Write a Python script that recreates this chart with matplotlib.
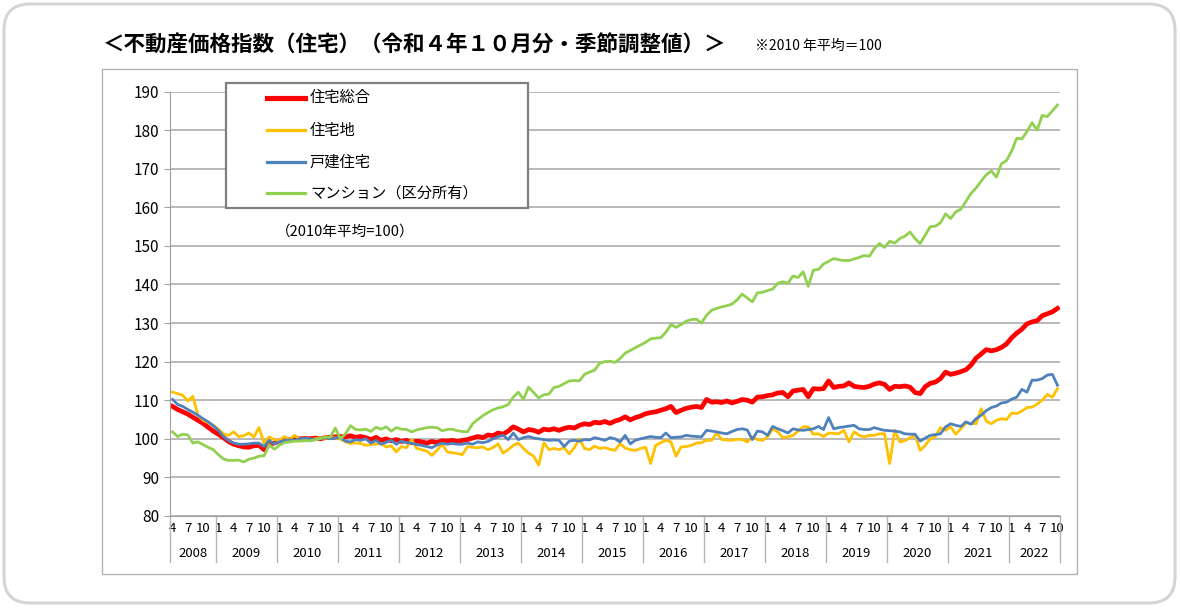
import pandas as pd
import matplotlib
matplotlib.use("Agg")
import matplotlib.pyplot as plt
import matplotlib.transforms as mtransforms
from matplotlib.patches import FancyBboxPatch, Rectangle
from matplotlib.lines import Line2D

plt.rcParams['font.family'] = ['Noto Sans CJK JP', 'DejaVu Sans']

# 2008年4月〜2022年10月（月次）
months = pd.period_range("2008-04", "2022-10", freq="M")
YEARS = list(range(2008, 2023))
TICK_MONTHS = [1, 4, 7, 10]

NAMES = ["住宅総合", "住宅地", "戸建住宅", "マンション（区分所有）"]
COLORS = ["#ff0000", "#ffc000", "#4f81bd", "#92d050"]

sogo = [
    108.4, 107.6, 107.0, 106.4, 105.6, 104.8, 104.0, 103.0, 102.0,
    101.2, 100.3, 99.3, 98.6, 98.2, 97.9, 97.8, 98.2, 98.3, 97.2, 98.6, 98.9,
    99.4, 99.5, 99.8, 99.9, 100.0, 100.1, 100.0, 100.2, 100.0, 100.3, 100.4, 100.5,
    100.6, 100.5, 100.8, 100.4, 100.6, 100.3, 99.8, 100.4, 99.6, 100.0, 99.5, 99.8,
    99.3, 99.6, 99.0, 99.4, 99.2, 98.9, 99.3, 99.0, 99.5, 99.4, 99.6, 99.3,
    99.6, 99.8, 100.2, 100.6, 100.3, 101.0, 100.8, 101.5, 101.2, 102.0, 103.1, 102.5,
    101.8, 102.4, 102.2, 101.7, 102.5, 102.3, 102.6, 102.2, 102.7, 103.0, 102.8, 103.5,
    103.9, 103.7, 104.3, 104.1, 104.5, 104.0, 104.6, 105.0, 105.7, 104.9, 105.5, 105.9,
    106.5, 106.8, 107.0, 107.4, 107.8, 108.4, 106.8, 107.4, 107.9, 108.2, 108.4, 108.1,
    110.2, 109.5, 109.6, 109.4, 109.8, 109.3, 109.7, 110.2, 110.0, 109.5, 110.8, 110.9,
    111.2, 111.4, 111.9, 112.0, 110.9, 112.4, 112.6, 112.8, 110.9, 113.0, 112.9, 113.0,
    115.0, 113.3, 113.6, 113.7, 114.5, 113.6, 113.4, 113.3, 113.6, 114.2, 114.5, 114.1,
    112.8, 113.6, 113.5, 113.7, 113.4, 112.0, 111.7, 113.5, 114.4, 114.7, 115.6, 117.3,
    116.7, 117.0, 117.4, 117.9, 119.1, 120.9, 122.0, 123.1, 122.8, 123.1, 123.7, 124.6,
    126.2, 127.4, 128.4, 129.8, 130.3, 130.6, 131.9, 132.4, 132.9, 133.8,
]

takuchi = [
    112.1, 111.7, 111.3, 109.8, 111.0, 106.1, 104.8, 104.2, 103.5,
    102.5, 101.3, 100.9, 101.8, 100.6, 100.8, 101.5, 100.5, 102.9, 98.8, 100.5, 99.8,
    99.6, 100.6, 99.8, 100.9, 99.8, 99.9, 99.8, 100.0, 100.3, 100.1, 100.3, 100.3,
    99.9, 99.2, 98.8, 98.9, 98.8, 98.3, 98.5, 98.6, 98.8, 97.9, 98.2, 96.6,
    98.0, 97.7, 99.8, 97.5, 97.2, 96.8, 95.7, 97.0, 98.6, 96.6, 96.4, 96.2,
    95.9, 98.0, 97.8, 97.7, 97.9, 97.2, 97.7, 98.7, 96.3, 97.2, 98.3, 98.9,
    97.5, 96.3, 95.5, 93.2, 99.0, 97.2, 97.5, 97.2, 97.7, 96.1, 97.7, 100.0,
    97.5, 97.2, 98.1, 97.5, 97.7, 97.3, 97.0, 98.8, 97.6, 97.2, 97.0, 97.5,
    97.8, 93.6, 98.3, 99.0, 99.6, 99.2, 95.5, 97.9, 98.0, 98.3, 98.9, 99.0,
    99.6, 99.6, 101.5, 99.8, 99.7, 99.6, 99.9, 99.8, 99.2, 100.5, 99.8, 99.6,
    100.5, 102.6, 101.8, 100.3, 100.5, 100.9, 102.0, 103.1, 103.1, 101.2, 101.3, 100.6,
    101.5, 101.4, 101.3, 102.2, 99.2, 101.8, 100.9, 100.5, 100.9, 100.9, 101.3, 101.3,
    93.6, 102.2, 99.2, 99.5, 100.3, 100.9, 97.0, 98.3, 100.0, 100.6, 102.9, 102.2,
    103.1, 101.2, 102.6, 104.1, 104.0, 103.9, 107.8, 104.6, 103.9, 104.8, 105.2, 105.0,
    106.7, 106.5, 107.2, 108.1, 108.2, 109.0, 110.0, 111.5, 110.8, 113.0,
]

kodate = [
    110.2, 108.9, 108.4, 107.6, 106.9, 106.1, 105.2, 104.4, 103.4,
    102.2, 100.6, 99.5, 98.9, 98.6, 98.6, 98.7, 98.9, 98.9, 98.0, 99.6, 98.7,
    99.2, 99.6, 99.7, 99.6, 100.0, 100.2, 100.0, 99.8, 100.1, 100.3, 100.0, 100.2,
    100.3, 99.4, 99.2, 99.8, 99.6, 100.0, 98.9, 99.6, 98.6, 99.1, 99.6, 98.6,
    99.4, 99.0, 98.9, 98.5, 98.3, 98.0, 97.7, 98.4, 98.9, 98.6, 98.8, 98.6,
    98.6, 98.9, 98.6, 99.2, 99.0, 99.3, 100.0, 100.5, 100.9, 99.8, 101.5, 99.8,
    100.3, 100.6, 100.2, 100.0, 99.8, 99.6, 99.7, 99.6, 98.0, 99.4, 99.6, 99.4,
    99.8, 99.7, 100.3, 100.0, 99.6, 100.3, 100.0, 99.2, 100.9, 98.7, 99.6, 100.0,
    100.3, 100.6, 100.4, 100.3, 101.5, 100.3, 100.4, 100.5, 100.9, 100.7, 100.6, 100.5,
    102.2, 102.0, 101.8, 101.5, 101.3, 101.9, 102.4, 102.6, 102.3, 99.8, 102.0, 101.8,
    100.9, 103.2, 102.6, 102.1, 101.5, 102.6, 102.3, 102.2, 102.4, 102.6, 103.2, 102.4,
    105.5, 102.6, 102.9, 103.1, 103.3, 103.5, 102.6, 102.4, 102.4, 102.9, 102.5, 102.2,
    102.1, 102.0, 101.8, 101.3, 101.2, 101.2, 99.4, 100.2, 100.9, 101.1, 101.3, 103.1,
    103.9, 103.5, 103.2, 104.4, 103.8, 105.2, 106.1, 107.3, 108.1, 108.5, 109.3, 109.5,
    110.3, 110.8, 112.8, 112.1, 115.2, 115.2, 115.6, 116.5, 116.7, 113.9,
]

mansion = [
    101.8, 100.6, 101.2, 101.0, 98.9, 99.2, 98.5, 97.8, 97.2,
    95.9, 94.8, 94.4, 94.4, 94.5, 94.0, 94.7, 95.0, 95.5, 95.6, 98.5, 97.3,
    98.3, 99.0, 99.2, 99.4, 99.4, 99.5, 99.5, 99.7, 100.0, 100.5, 100.4, 102.8,
    100.0, 101.3, 103.4, 102.4, 102.3, 102.5, 101.9, 103.0, 102.5, 103.1, 102.0, 102.9,
    102.5, 102.4, 101.8, 102.3, 102.6, 102.9, 103.0, 102.9, 102.1, 102.4, 102.5, 102.1,
    101.9, 101.8, 103.9, 105.0, 106.0, 106.8, 107.5, 108.0, 108.3, 108.9, 110.8, 112.1,
    110.2, 113.4, 112.0, 110.6, 111.4, 111.6, 113.3, 113.6, 114.3, 115.0, 115.1, 115.0,
    116.7, 117.3, 117.8, 119.6, 120.0, 120.1, 119.8, 120.8, 122.2, 122.9, 123.6, 124.3,
    125.0, 125.9, 126.1, 126.2, 127.6, 129.6, 128.9, 129.6, 130.5, 130.9, 131.0, 130.0,
    132.0, 133.3, 133.8, 134.2, 134.5, 134.9, 136.0, 137.5, 136.5, 135.5, 137.8, 138.0,
    138.4, 138.8, 140.3, 140.7, 140.3, 142.2, 141.8, 143.3, 139.5, 143.7, 143.9, 145.3,
    146.0, 146.7, 146.4, 146.2, 146.2, 146.6, 147.0, 147.5, 147.3, 149.3, 150.6, 149.6,
    151.2, 150.7, 151.9, 152.5, 153.6, 151.9, 150.6, 152.8, 155.0, 155.1, 156.0, 158.3,
    157.1, 158.8, 159.5, 161.5, 163.6, 165.0, 166.8, 168.4, 169.4, 167.8, 171.3, 172.1,
    174.6, 177.9, 177.7, 179.6, 181.9, 180.0, 183.8, 183.5, 185.0, 186.5,
]

W, H = 1180, 608
fig = plt.figure(figsize=(W / 100, H / 100), dpi=100)
# pixel coords, origin top-left
pix = mtransforms.Affine2D().scale(1 / 100, -1 / 100).translate(0, H / 100) + fig.dpi_scale_trans

# outer rounded frame and inner chart box
fig.add_artist(FancyBboxPatch((4, 4), W - 9, H - 9, boxstyle="round,pad=0,rounding_size=26",
                              transform=pix, facecolor="white", edgecolor="#d4d4d4", lw=2.2, zorder=-5))
fig.add_artist(Rectangle((102, 69), 975, 505, transform=pix, facecolor="none",
                         edgecolor="#b4b4b4", lw=1.0, zorder=-4))

ax = fig.add_axes([170 / W, 1 - 516 / H, 890 / W, 424.5 / H])
ax.patch.set_alpha(0)

x = list(range(len(months)))
series = [sogo, takuchi, kodate, mansion]
widths = [3.4, 2.0, 2.0, 2.0]
for vals, c, lw in zip(series, COLORS, widths):
    ax.plot(x, vals, color=c, lw=lw, solid_joinstyle="round")

ax.set_xlim(-0.5, len(months) - 0.5)
ax.set_ylim(80, 190)
ax.set_yticks(range(80, 191, 10))
ax.yaxis.grid(True, color="#a6a6a6", lw=1.1)
ax.set_axisbelow(True)
for s in ["top", "right"]:
    ax.spines[s].set_visible(False)
ax.spines["left"].set_color("#a0a0a0")
ax.spines["bottom"].set_color("#a0a0a0")
ax.tick_params(axis="y", length=4, color="#a0a0a0", pad=4, labelsize=11)

# month labels
tick_pos = [i for i, p in enumerate(months) if p.month in TICK_MONTHS]
tick_lab = [str(months[i].month) for i in tick_pos]
ax.set_xticks(tick_pos)
ax.set_xticklabels(tick_lab, fontsize=9.5)
ax.tick_params(axis="x", length=0, pad=4)

# year labels and separators
trans = mtransforms.blended_transform_factory(ax.transData, ax.transAxes)
for yr in YEARS:
    idx = [i for i, p in enumerate(months) if p.year == yr]
    ax.text((idx[0] + idx[-1]) / 2, -0.088, str(yr), transform=trans,
            ha="center", va="center", fontsize=9.5)
    ax.add_line(Line2D([idx[0] - 0.5] * 2, [0, -0.108], transform=trans,
                       color="#b4b4b4", lw=1.0, clip_on=False))
ax.add_line(Line2D([len(months) - 0.5] * 2, [0, -0.108], transform=trans,
                   color="#b4b4b4", lw=1.0, clip_on=False))

# legend box
fig.add_artist(Rectangle((225.5, 82.7), 302, 124.8, transform=pix, facecolor="white",
                         edgecolor="#808080", lw=1.6, zorder=3))
rows = [97.7, 130.0, 161.7, 193.3]
for name, c, lw, ry in zip(NAMES, COLORS, widths, rows):
    fig.add_artist(Line2D([267, 305], [ry, ry], transform=pix, color=c, lw=lw + 0.3, zorder=4))
    fig.text(310 / W, 1 - ry / H, name, fontsize=11, va="center", ha="left", zorder=4)

fig.text(276 / W, 1 - 232 / H, "（2010年平均=100）", fontsize=10.5, va="center", ha="left")

fig.text(103 / W, 1 - 45 / H, "＜不動産価格指数（住宅）（令和４年１０月分・季節調整値）＞",
         fontsize=15.5, fontweight="bold", va="center", ha="left")
fig.text(755 / W, 1 - 46 / H, "※2010 年平均＝100", fontsize=10, va="center", ha="left")

fig.savefig("out.png", dpi=100)
